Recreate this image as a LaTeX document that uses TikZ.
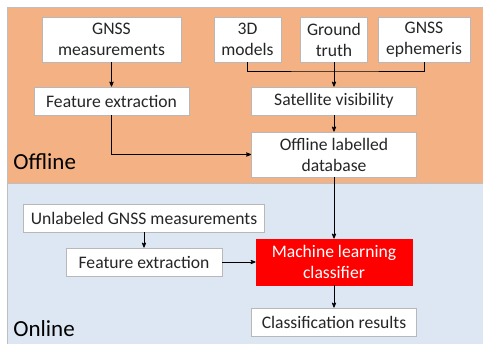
\documentclass[tikz,border=0pt]{standalone}
\usepackage{fontspec}
\setmainfont{Carlito}
\usetikzlibrary{positioning}
\usetikzlibrary{arrows}
\usetikzlibrary{calc}
\definecolor{offlinebg}{HTML}{F4B183}
\definecolor{onlinebg}{HTML}{DDE7F3}
\definecolor{boxline}{HTML}{B8B8B8}
\definecolor{mlred}{HTML}{FF0000}
\tikzset{blk/.style={draw=boxline,fill=white,inner sep=0pt,align=center,font=\fontsize{17.6}{21}\selectfont,text=black!85}}
\tikzset{area/.style={draw=black!25,line width=0.6pt}}
\tikzset{>=stealth'}

\begin{document}
\begin{tikzpicture}[x=1pt,y=-1pt,line width=0.8pt]
\useasboundingbox (0,0) rectangle (483,344);
\fill[white] (0,0) rectangle (483,344);
% the two phases
\draw[area,fill=offlinebg] (7,7) rectangle (484,183);
\draw[area,fill=onlinebg] (7,183) rectangle (484,345);
\node[anchor=base west,inner sep=0pt,font=\fontsize{23}{26}\selectfont] (offlbl) at (13,170) {Offline};
\node[anchor=base west,inner sep=0pt,font=\fontsize{23}{26}\selectfont] (onlbl) at (13,337) {Online};

\node[blk,minimum width=139,minimum height=45] (gnss) at (111.5,39.5) {GNSS\\measurements};
\node[blk,minimum width=67,minimum height=45] (models) at (247.5,39.5) {3D\\models};
\node[blk,minimum width=67,minimum height=45] (truth) at (334,39.5) {Ground\\truth};
\node[blk,minimum width=92,minimum height=45] (ephem) at (424,39.5) {GNSS\\ephemeris};
\node[blk,minimum width=155,minimum height=28] (featoff) at (111.5,101) {Feature extraction};
\node[blk,minimum width=165,minimum height=28] (satvis) at (334,101) {Satellite visibility};
\node[blk,minimum width=165,minimum height=45] (db) at (334,154.5) {Offline labelled\\database};

\node[blk,minimum width=241,minimum height=28] (unlab) at (144,218) {Unlabeled GNSS measurements};
\node[blk,minimum width=156,minimum height=28] (feaon) at (144,262) {Feature extraction};
\node[blk,draw=mlred,fill=mlred,text=white,minimum width=156,minimum height=46] (mlc) at (334,262) {Machine learning\\classifier};
\node[blk,minimum width=165,minimum height=28] (res) at (334,322) {Classification results};

\coordinate (join) at (334,71);
\draw (models.south) |- (join) -| (ephem.south);
\draw[->] (truth.south) -- (satvis.north);
\draw[->] (gnss.south) -- (featoff.north);
\draw[->] (satvis.south) -- (db.north);
\draw[->] (featoff.south) |- (db.west);
\draw[->] (db.south) -- (mlc.north);
\draw[->] (unlab.south) -- (feaon.north);
\draw[->] (feaon.east) -- (mlc.west);
\draw[->] (mlc.south) -- (res.north);
\end{tikzpicture}
\end{document}
